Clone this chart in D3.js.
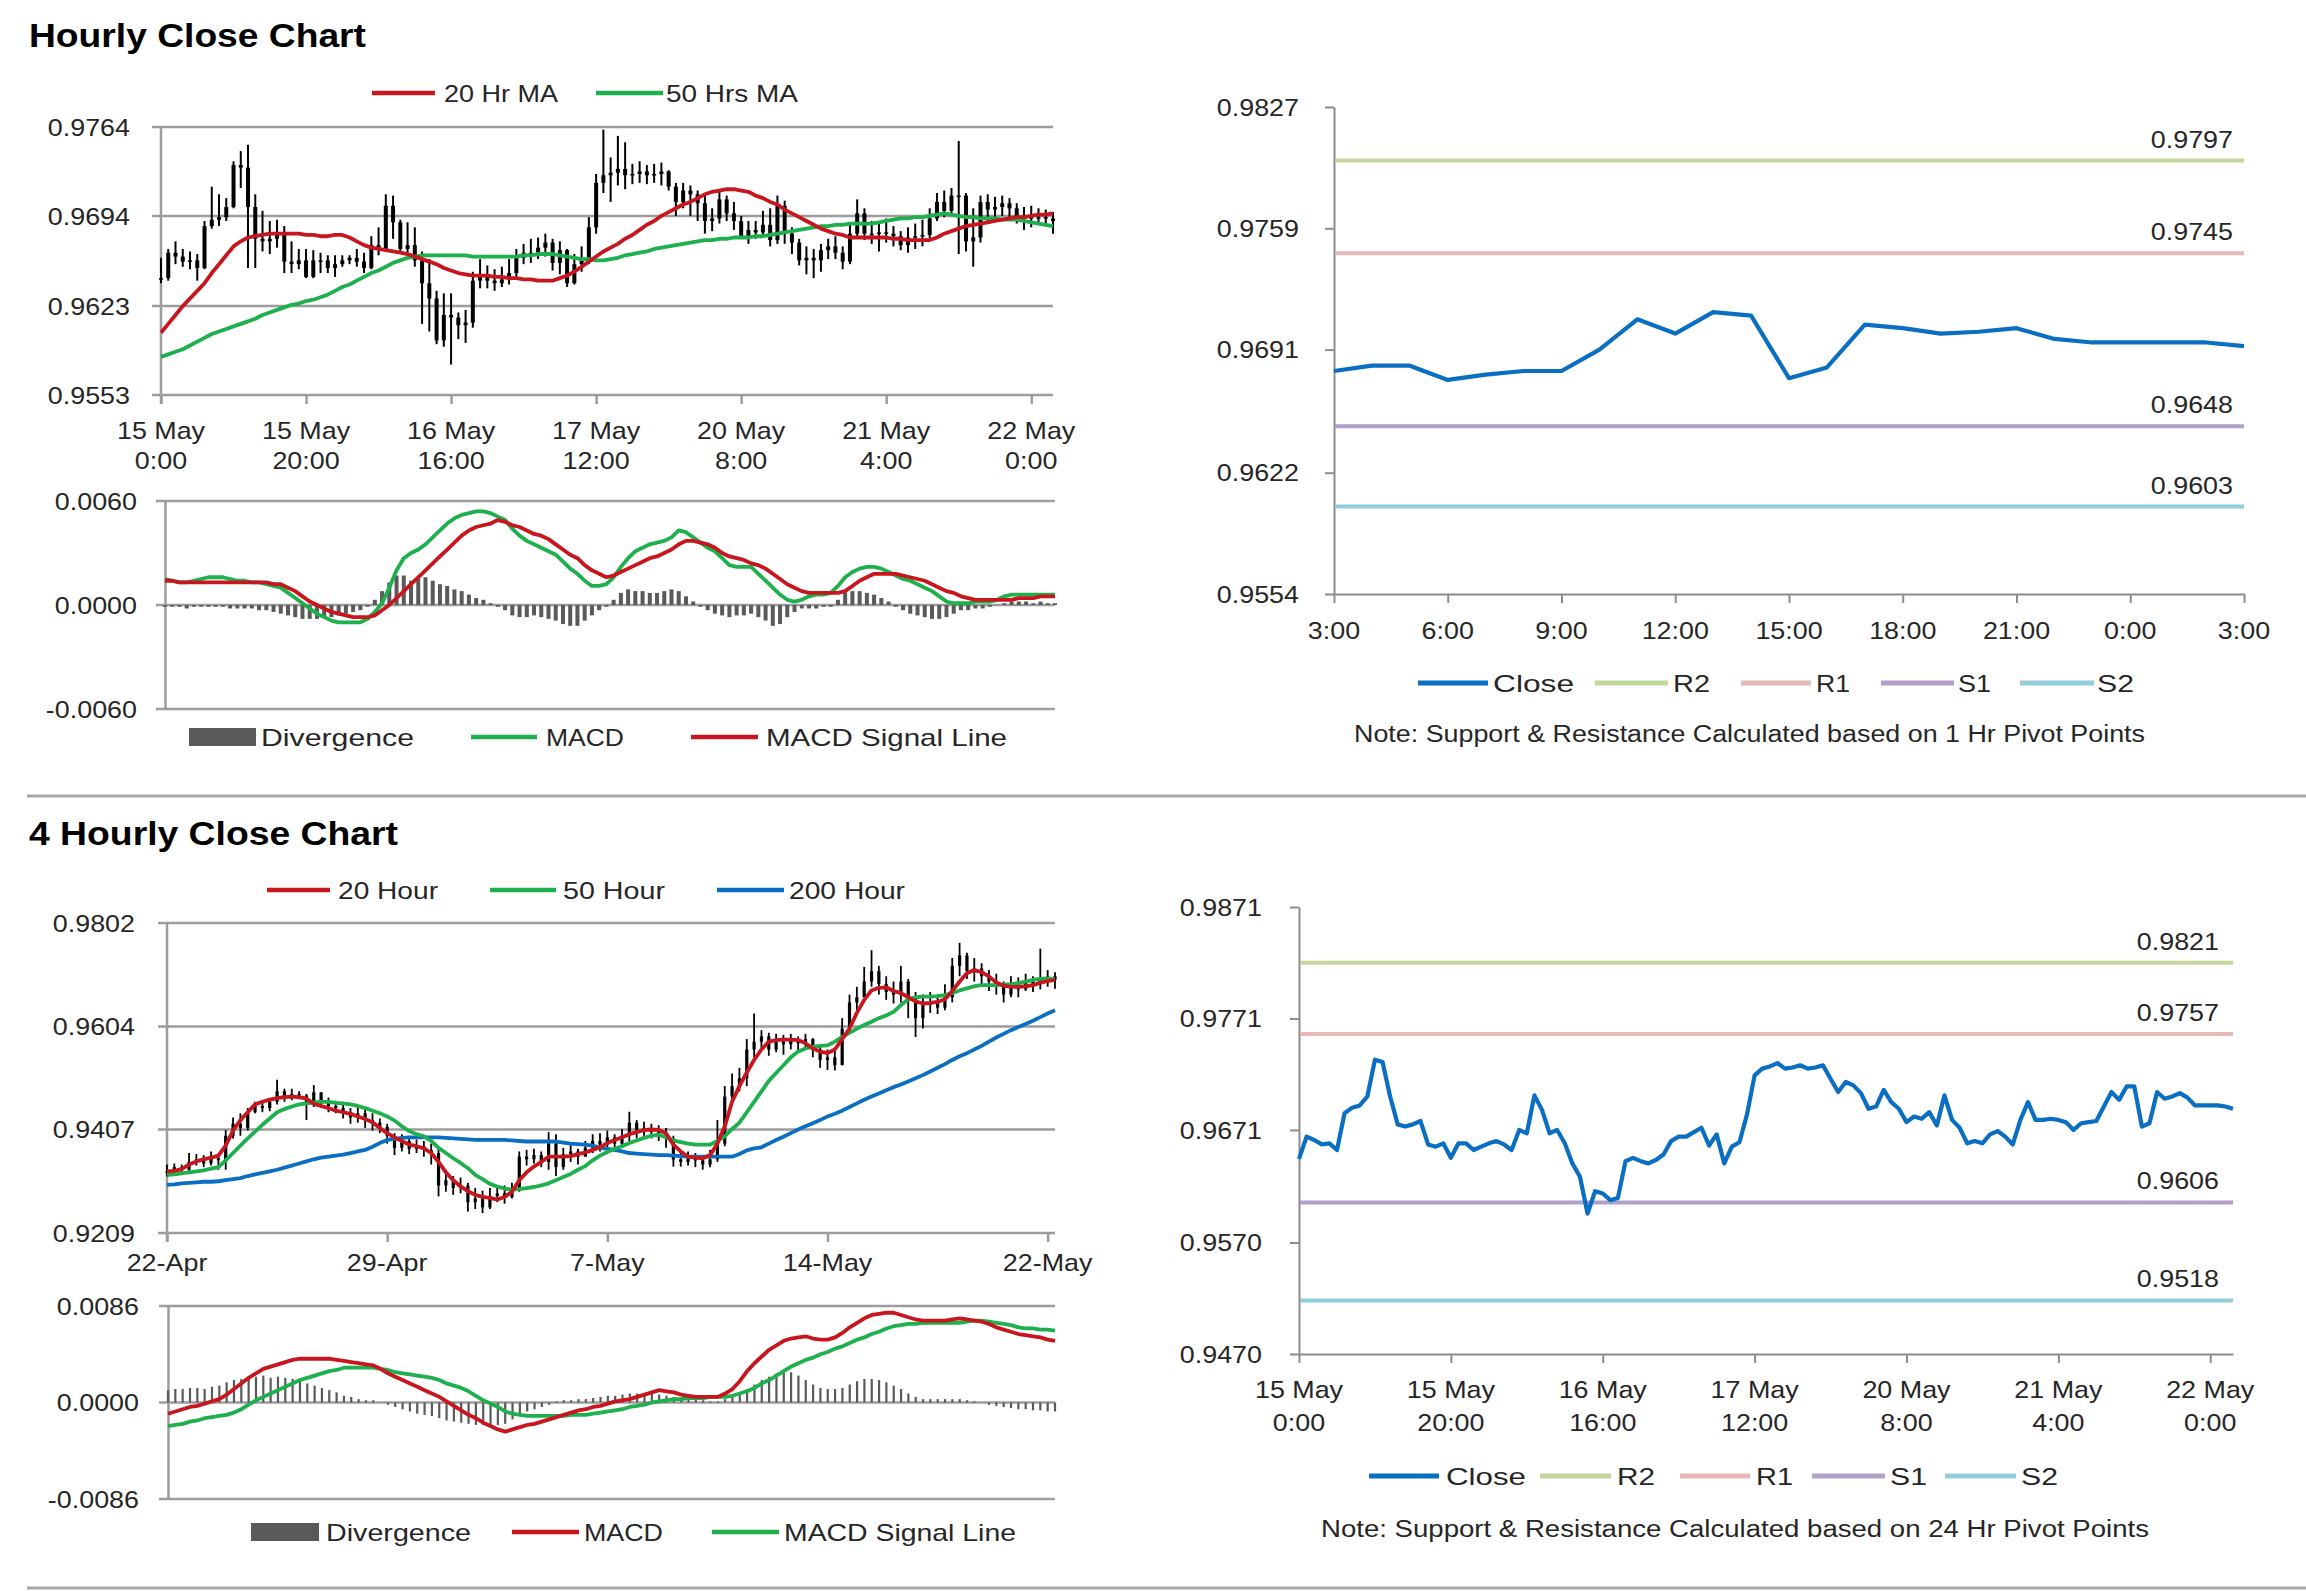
<!DOCTYPE html>
<html><head><meta charset="utf-8">
<script src="https://cdn.jsdelivr.net/npm/d3@7"></script>
<style>body{margin:0;background:#fff;}</style>
</head><body>
<script>
// ---------------- DATA ----------------
// Hourly chart (15 May 0:00 -> 22 May ~3:00), 124 hourly bars
const hXLabels = [["15 May","0:00"],["15 May","20:00"],["16 May","16:00"],["17 May","12:00"],["20 May","8:00"],["21 May","4:00"],["22 May","0:00"]];
const hXTickIdx = [0,20,40,60,80,100,120];
const hYTicks = [0.9553,0.9623,0.9694,0.9764];
const hClose = [0.9645,0.9665,0.9662,0.9658,0.9659,0.9653,0.9686,0.9691,0.9693,0.9701,
0.9734,0.9732,0.9701,0.9676,0.9674,0.9676,0.9679,0.9658,0.9656,0.9659,
0.9646,0.9659,0.9659,0.9653,0.9656,0.9659,0.9661,0.9658,0.9653,0.9671,
0.9668,0.9702,0.9689,0.9668,0.9671,0.9659,0.9641,0.9629,0.9596,0.9616,
0.9614,0.9608,0.9610,0.9643,0.9646,0.9643,0.9641,0.9644,0.9649,0.9661,
0.9665,0.9665,0.9669,0.9673,0.9657,0.9667,0.9641,0.9656,0.9660,0.9685,
0.9720,0.9726,0.9728,0.9731,0.9726,0.9727,0.9729,0.9726,0.9727,0.9729,
0.9717,0.9705,0.9714,0.9711,0.9704,0.9690,0.9692,0.9707,0.9696,0.9690,
0.9678,0.9683,0.9681,0.9687,0.9675,0.9702,0.9680,0.9673,0.9659,0.9661,
0.9659,0.9667,0.9670,0.9665,0.9658,0.9680,0.9696,0.9680,0.9680,0.9681,
0.9680,0.9678,0.9671,0.9677,0.9678,0.9679,0.9692,0.9705,0.9698,0.9710,
0.9710,0.9674,0.9677,0.9705,0.9699,0.9701,0.9704,0.9700,0.9693,0.9693,
0.9693,0.9693,0.9692,0.9690];
const hHigh = [0.9661,0.9668,0.9674,0.9668,0.9666,0.9664,0.9690,0.9717,0.9711,0.9708,
0.9737,0.9745,0.9750,0.9711,0.9698,0.9690,0.9691,0.9686,0.9674,0.9668,
0.9668,0.9667,0.9665,0.9663,0.9663,0.9663,0.9663,0.9668,0.9665,0.9678,
0.9685,0.9711,0.9710,0.9691,0.9689,0.9685,0.9666,0.9660,0.9635,0.9633,
0.9633,0.9618,0.9620,0.9650,0.9660,0.9655,0.9652,0.9654,0.9660,0.9668,
0.9672,0.9676,0.9677,0.9680,0.9676,0.9674,0.9668,0.9664,0.9670,0.9693,
0.9727,0.9762,0.9740,0.9757,0.9752,0.9735,0.9737,0.9734,0.9735,0.9736,
0.9730,0.9720,0.9720,0.9718,0.9714,0.9712,0.9700,0.9714,0.9710,0.9705,
0.9694,0.9690,0.9690,0.9698,0.9700,0.9710,0.9706,0.9685,0.9676,0.9670,
0.9668,0.9672,0.9676,0.9678,0.9670,0.9688,0.9707,0.9700,0.9690,0.9688,
0.9692,0.9686,0.9682,0.9685,0.9688,0.9691,0.9700,0.9712,0.9714,0.9716,
0.9753,0.9712,0.9700,0.9710,0.9711,0.9709,0.9710,0.9708,0.9704,0.9701,
0.9702,0.9700,0.9699,0.9697];
const hLow = [0.9641,0.9643,0.9656,0.9654,0.9652,0.9643,0.9652,0.9684,0.9686,0.9690,
0.9700,0.9716,0.9653,0.9653,0.9666,0.9664,0.9669,0.9649,0.9649,0.9652,
0.9645,0.9645,0.9649,0.9649,0.9646,0.9654,0.9656,0.9654,0.9649,0.9652,
0.9663,0.9667,0.9676,0.9665,0.9665,0.9654,0.9609,0.9603,0.9593,0.9591,
0.9577,0.9597,0.9594,0.9606,0.9637,0.9637,0.9635,0.9638,0.9640,0.9645,
0.9656,0.9657,0.9660,0.9662,0.9651,0.9648,0.9638,0.9640,0.9650,0.9656,
0.9680,0.9712,0.9705,0.9718,0.9715,0.9719,0.9720,0.9719,0.9720,0.9718,
0.9714,0.9694,0.9700,0.9694,0.9690,0.9680,0.9682,0.9688,0.9690,0.9683,
0.9676,0.9672,0.9676,0.9678,0.9670,0.9672,0.9672,0.9664,0.9655,0.9648,
0.9645,0.9650,0.9660,0.9660,0.9652,0.9656,0.9676,0.9675,0.9672,0.9666,
0.9673,0.9670,0.9667,0.9665,0.9668,0.9670,0.9676,0.9690,0.9693,0.9695,
0.9664,0.9666,0.9654,0.9673,0.9690,0.9692,0.9694,0.9693,0.9688,0.9683,
0.9685,0.9688,0.9686,0.9680];
const hMA20 = [0.9602,0.9609,0.9616,0.9623,0.9629,0.9635,0.9641,0.9649,0.9656,0.9663,
0.9670,0.9674,0.9677,0.9678,0.9679,0.9680,0.9680,0.9680,0.9680,0.9680,
0.9679,0.9679,0.9678,0.9678,0.9679,0.9679,0.9677,0.9674,0.9671,0.9669,
0.9668,0.9667,0.9666,0.9665,0.9664,0.9662,0.9660,0.9658,0.9656,0.9653,
0.9651,0.9649,0.9648,0.9647,0.9647,0.9647,0.9646,0.9646,0.9645,0.9645,
0.9644,0.9644,0.9643,0.9643,0.9643,0.9645,0.9647,0.9650,0.9654,0.9658,
0.9662,0.9666,0.9669,0.9672,0.9676,0.9679,0.9683,0.9687,0.9690,0.9694,
0.9697,0.9700,0.9703,0.9705,0.9708,0.9711,0.9713,0.9714,0.9715,0.9715,
0.9714,0.9713,0.9710,0.9708,0.9705,0.9703,0.9699,0.9696,0.9693,0.9690,
0.9687,0.9684,0.9682,0.9680,0.9679,0.9677,0.9677,0.9677,0.9677,0.9677,
0.9677,0.9676,0.9676,0.9675,0.9675,0.9675,0.9675,0.9677,0.9680,0.9682,
0.9684,0.9686,0.9687,0.9688,0.9689,0.9690,0.9691,0.9692,0.9693,0.9693,
0.9694,0.9695,0.9695,0.9696];
const hMA50 = [0.9583,0.9585,0.9587,0.9589,0.9592,0.9595,0.9598,0.9601,0.9603,0.9605,
0.9607,0.9609,0.9611,0.9613,0.9616,0.9618,0.9620,0.9622,0.9624,0.9625,
0.9627,0.9628,0.9630,0.9632,0.9635,0.9638,0.9640,0.9643,0.9646,0.9649,
0.9651,0.9654,0.9657,0.9659,0.9661,0.9662,0.9663,0.9663,0.9663,0.9663,
0.9663,0.9663,0.9663,0.9662,0.9662,0.9662,0.9662,0.9662,0.9662,0.9662,
0.9663,0.9663,0.9664,0.9664,0.9664,0.9663,0.9662,0.9661,0.9660,0.9660,
0.9659,0.9659,0.9660,0.9661,0.9663,0.9664,0.9665,0.9666,0.9668,0.9669,
0.9670,0.9671,0.9672,0.9673,0.9674,0.9675,0.9675,0.9676,0.9676,0.9677,
0.9677,0.9677,0.9678,0.9678,0.9679,0.9680,0.9681,0.9682,0.9683,0.9684,
0.9685,0.9686,0.9686,0.9687,0.9687,0.9688,0.9688,0.9688,0.9688,0.9689,
0.9690,0.9691,0.9692,0.9692,0.9693,0.9693,0.9694,0.9695,0.9696,0.9695,
0.9694,0.9693,0.9693,0.9692,0.9692,0.9692,0.9691,0.9691,0.9691,0.9690,
0.9689,0.9688,0.9687,0.9686];
const hMacdTicks = [-0.006,0,0.006];
const hMacd = [0.0015,0.0014,0.0013,0.0013,0.0014,0.0015,0.0016,0.0016,0.0016,0.0015,
0.0014,0.0014,0.0013,0.0013,0.0012,0.0011,0.0010,0.0007,0.0004,0.0001,
-0.0002,-0.0005,-0.0007,-0.0009,-0.0010,-0.0010,-0.0010,-0.0010,-0.0008,-0.0004,
0.0001,0.0010,0.0020,0.0027,0.0030,0.0032,0.0035,0.0039,0.0043,0.0047,
0.0050,0.0052,0.0053,0.0054,0.0054,0.0053,0.0051,0.0049,0.0044,0.0040,
0.0037,0.0035,0.0033,0.0031,0.0029,0.0025,0.0021,0.0018,0.0014,0.0011,
0.0011,0.0012,0.0016,0.0022,0.0027,0.0031,0.0033,0.0035,0.0036,0.0037,
0.0039,0.0043,0.0042,0.0039,0.0036,0.0033,0.0031,0.0027,0.0023,0.0022,
0.0022,0.0022,0.0018,0.0014,0.0010,0.0006,0.0003,0.0002,0.0003,0.0005,
0.0006,0.0006,0.0007,0.0011,0.0016,0.0019,0.0021,0.0022,0.0022,0.0021,
0.0019,0.0017,0.0015,0.0014,0.0012,0.0010,0.0008,0.0005,0.0002,0.0001,
0.0001,0.0001,0.0002,0.0002,0.0002,0.0003,0.0005,0.0006,0.0006,0.0006,
0.0006,0.0006,0.0006,0.0006];
const hSignal = [0.0014,0.0014,0.0013,0.0013,0.0013,0.0013,0.0013,0.0013,0.0013,0.0013,
0.0013,0.0013,0.0013,0.0013,0.0013,0.0012,0.0012,0.0010,0.0008,0.0005,
0.0002,0.0000,-0.0002,-0.0004,-0.0005,-0.0006,-0.0007,-0.0007,-0.0007,-0.0006,
-0.0003,0.0000,0.0004,0.0008,0.0012,0.0016,0.0020,0.0024,0.0028,0.0032,
0.0036,0.0040,0.0043,0.0045,0.0046,0.0047,0.0049,0.0048,0.0046,0.0045,
0.0043,0.0041,0.0040,0.0038,0.0035,0.0032,0.0029,0.0027,0.0023,0.0020,
0.0018,0.0016,0.0017,0.0019,0.0021,0.0023,0.0025,0.0027,0.0028,0.0030,
0.0032,0.0035,0.0037,0.0037,0.0036,0.0035,0.0033,0.0030,0.0028,0.0027,
0.0026,0.0024,0.0023,0.0021,0.0018,0.0015,0.0012,0.0010,0.0008,0.0007,
0.0007,0.0007,0.0007,0.0007,0.0008,0.0011,0.0014,0.0016,0.0018,0.0018,
0.0018,0.0018,0.0017,0.0016,0.0015,0.0014,0.0012,0.0010,0.0008,0.0007,
0.0005,0.0004,0.0003,0.0003,0.0003,0.0003,0.0003,0.0003,0.0004,0.0004,
0.0004,0.0005,0.0005,0.0005];
const hDiv = [-0.0001,-0.0001,-0.0001,-0.0002,-0.0001,-0.0001,-0.0001,-0.0001,-0.0001,-0.0002,
-0.0002,-0.0002,-0.0002,-0.0003,-0.0003,-0.0004,-0.0005,-0.0006,-0.0007,-0.0008,
-0.0008,-0.0008,-0.0007,-0.0007,-0.0006,-0.0005,-0.0004,-0.0003,-0.0001,0.0003,
0.0008,0.0013,0.0017,0.0017,0.0014,0.0015,0.0016,0.0014,0.0012,0.0011,
0.0009,0.0008,0.0006,0.0004,0.0003,0.0001,-0.0001,-0.0003,-0.0006,-0.0007,
-0.0007,-0.0006,-0.0007,-0.0008,-0.0009,-0.0011,-0.0012,-0.0012,-0.0009,-0.0006,
-0.0003,-0.0001,0.0003,0.0007,0.0009,0.0008,0.0008,0.0007,0.0007,0.0008,
0.0009,0.0008,0.0005,0.0002,-0.0001,-0.0003,-0.0005,-0.0006,-0.0007,-0.0006,
-0.0006,-0.0005,-0.0007,-0.0009,-0.0012,-0.0011,-0.0007,-0.0004,-0.0002,-0.0002,
-0.0002,-0.0001,-0.0001,0.0003,0.0007,0.0008,0.0008,0.0007,0.0006,0.0004,
0.0002,-0.0001,-0.0003,-0.0005,-0.0006,-0.0007,-0.0008,-0.0008,-0.0007,-0.0005,
-0.0003,-0.0003,-0.0002,-0.0002,-0.0001,0.0000,0.0001,0.0002,0.0002,0.0002,
0.0001,0.0002,0.0001,0.0001];

// 1 Hr pivot chart (last 25 hours)
const srHLabels = ["3:00","6:00","9:00","12:00","15:00","18:00","21:00","0:00","3:00"];
const srHTickIdx = [0,3,6,9,12,15,18,21,24];
const srHYTicks = [0.9554,0.9622,0.9691,0.9759,0.9827];
const srHClose = [0.9679,0.9682,0.9682,0.9674,0.9677,0.9679,0.9679,0.9691,0.9708,0.9700,
0.9712,0.9710,0.9675,0.9681,0.9705,0.9703,0.9700,0.9701,0.9703,0.9697,
0.9695,0.9695,0.9695,0.9695,0.9693];
const srHLevels = [0.9797,0.9745,0.9648,0.9603];
// 24 Hr pivot chart (same hourly closes as hClose)
const srDYTicks = [0.9470,0.9570,0.9671,0.9771,0.9871];
const srDLevels = [0.9821,0.9757,0.9606,0.9518];
const levelNames = ["R2","R1","S1","S2"];

// 4 Hourly chart (22 Apr -> 22 May), 122 bars
const fhXLabels = ["22-Apr","29-Apr","7-May","14-May","22-May"];
const fhXTickIdx = [0,30,60,90,120];
const fhYTicks = [0.9209,0.9407,0.9604,0.9802];
const fhClose = [0.9327,0.9335,0.9330,0.9345,0.9350,0.9342,0.9352,0.9348,0.9395,0.9418,
0.9410,0.9440,0.9452,0.9448,0.9460,0.9480,0.9468,0.9475,0.9472,0.9455,
0.9478,0.9460,0.9452,0.9448,0.9440,0.9430,0.9438,0.9425,0.9420,0.9412,
0.9395,0.9372,0.9385,0.9370,0.9375,0.9368,0.9362,0.9300,0.9310,0.9295,
0.9300,0.9268,0.9275,0.9258,0.9280,0.9285,0.9278,0.9290,0.9355,0.9350,
0.9358,0.9345,0.9380,0.9335,0.9360,0.9365,0.9355,0.9372,0.9385,0.9378,
0.9392,0.9380,0.9395,0.9420,0.9405,0.9410,0.9402,0.9400,0.9390,0.9350,
0.9345,0.9352,0.9348,0.9340,0.9350,0.9380,0.9470,0.9490,0.9505,0.9560,
0.9575,0.9585,0.9560,0.9575,0.9570,0.9578,0.9572,0.9580,0.9560,0.9540,
0.9545,0.9530,0.9600,0.9650,0.9660,0.9690,0.9710,0.9685,0.9670,0.9665,
0.9690,0.9660,0.9620,0.9645,0.9650,0.9640,0.9660,0.9720,0.9740,0.9710,
0.9715,0.9700,0.9690,0.9685,0.9665,0.9680,0.9675,0.9690,0.9685,0.9695,
0.9700,0.9693];
const fhHigh = [0.9340,0.9342,0.9340,0.9362,0.9360,0.9358,0.9365,0.9360,0.9406,0.9430,
0.9438,0.9448,0.9460,0.9462,0.9465,0.9502,0.9485,0.9485,0.9480,0.9475,
0.9492,0.9478,0.9468,0.9462,0.9455,0.9448,0.9450,0.9445,0.9438,0.9428,
0.9418,0.9400,0.9398,0.9392,0.9388,0.9385,0.9380,0.9370,0.9330,0.9318,
0.9315,0.9305,0.9295,0.9290,0.9295,0.9300,0.9300,0.9305,0.9365,0.9368,
0.9370,0.9365,0.9402,0.9398,0.9372,0.9378,0.9370,0.9385,0.9398,0.9400,
0.9405,0.9398,0.9408,0.9441,0.9425,0.9422,0.9418,0.9415,0.9410,0.9395,
0.9365,0.9365,0.9362,0.9358,0.9368,0.9425,0.9490,0.9514,0.9525,0.9580,
0.9629,0.9597,0.9592,0.9590,0.9588,0.9590,0.9585,0.9590,0.9582,0.9565,
0.9560,0.9560,0.9620,0.9665,0.9680,0.9718,0.9750,0.9720,0.9700,0.9690,
0.9720,0.9695,0.9670,0.9665,0.9670,0.9665,0.9685,0.9735,0.9764,0.9745,
0.9735,0.9725,0.9712,0.9705,0.9690,0.9700,0.9698,0.9705,0.9700,0.9753,
0.9712,0.9708];
const fhLow = [0.9317,0.9320,0.9322,0.9328,0.9338,0.9335,0.9338,0.9330,0.9330,0.9390,
0.9395,0.9405,0.9438,0.9440,0.9442,0.9455,0.9460,0.9463,0.9465,0.9425,
0.9450,0.9448,0.9440,0.9438,0.9428,0.9418,0.9420,0.9410,0.9405,0.9400,
0.9380,0.9358,0.9365,0.9360,0.9362,0.9355,0.9340,0.9279,0.9288,0.9282,
0.9285,0.9250,0.9255,0.9247,0.9255,0.9268,0.9265,0.9275,0.9288,0.9338,
0.9342,0.9335,0.9330,0.9318,0.9330,0.9345,0.9340,0.9355,0.9362,0.9365,
0.9370,0.9365,0.9372,0.9385,0.9390,0.9395,0.9390,0.9385,0.9372,0.9336,
0.9336,0.9338,0.9335,0.9330,0.9335,0.9345,0.9375,0.9465,0.9480,0.9490,
0.9545,0.9560,0.9548,0.9555,0.9550,0.9560,0.9555,0.9560,0.9545,0.9525,
0.9521,0.9520,0.9530,0.9595,0.9635,0.9660,0.9680,0.9665,0.9655,0.9648,
0.9650,0.9620,0.9584,0.9600,0.9630,0.9628,0.9635,0.9650,0.9700,0.9695,
0.9690,0.9680,0.9672,0.9665,0.9650,0.9660,0.9660,0.9672,0.9670,0.9675,
0.9680,0.9676];
const fhMA20 = [0.9327,0.9328,0.9331,0.9340,0.9346,0.9350,0.9353,0.9357,0.9376,0.9405,
0.9425,0.9440,0.9455,0.9460,0.9464,0.9467,0.9469,0.9470,0.9469,0.9466,
0.9456,0.9452,0.9448,0.9443,0.9440,0.9437,0.9432,0.9427,0.9421,0.9410,
0.9400,0.9392,0.9385,0.9378,0.9375,0.9371,0.9362,0.9345,0.9325,0.9310,
0.9298,0.9289,0.9282,0.9278,0.9276,0.9273,0.9278,0.9288,0.9310,0.9325,
0.9336,0.9345,0.9355,0.9355,0.9355,0.9356,0.9360,0.9363,0.9368,0.9373,
0.9381,0.9387,0.9392,0.9398,0.9402,0.9406,0.9407,0.9406,0.9400,0.9378,
0.9365,0.9355,0.9353,0.9352,0.9358,0.9380,0.9413,0.9460,0.9490,0.9516,
0.9540,0.9560,0.9575,0.9578,0.9579,0.9579,0.9578,0.9572,0.9562,0.9556,
0.9553,0.9560,0.9580,0.9600,0.9630,0.9655,0.9673,0.9678,0.9679,0.9672,
0.9668,0.9660,0.9652,0.9648,0.9649,0.9651,0.9656,0.9672,0.9690,0.9706,
0.9712,0.9708,0.9700,0.9688,0.9682,0.9680,0.9680,0.9681,0.9683,0.9688,
0.9691,0.9693];
const fhMA50 = [0.9320,0.9321,0.9323,0.9325,0.9327,0.9329,0.9332,0.9335,0.9348,0.9362,
0.9376,0.9390,0.9403,0.9416,0.9428,0.9440,0.9446,0.9451,0.9455,0.9457,
0.9459,0.9460,0.9460,0.9458,0.9457,0.9455,0.9452,0.9448,0.9443,0.9438,
0.9432,0.9424,0.9413,0.9404,0.9398,0.9394,0.9385,0.9372,0.9362,0.9352,
0.9343,0.9333,0.9320,0.9312,0.9303,0.9298,0.9294,0.9292,0.9293,0.9295,
0.9297,0.9300,0.9304,0.9310,0.9316,0.9322,0.9330,0.9337,0.9348,0.9357,
0.9364,0.9370,0.9375,0.9381,0.9386,0.9391,0.9395,0.9397,0.9392,0.9386,
0.9383,0.9380,0.9378,0.9378,0.9378,0.9385,0.9394,0.9408,0.9420,0.9440,
0.9460,0.9480,0.9500,0.9515,0.9530,0.9545,0.9556,0.9562,0.9565,0.9567,
0.9568,0.9575,0.9584,0.9592,0.9600,0.9607,0.9613,0.9620,0.9625,0.9632,
0.9645,0.9656,0.9660,0.9661,0.9661,0.9662,0.9664,0.9668,0.9673,0.9677,
0.9681,0.9683,0.9683,0.9683,0.9684,0.9685,0.9687,0.9690,0.9693,0.9695,
0.9696,0.9694];
const fhMA200 = [0.9301,0.9302,0.9304,0.9305,0.9306,0.9307,0.9307,0.9308,0.9310,0.9312,
0.9314,0.9318,0.9321,0.9324,0.9327,0.9330,0.9334,0.9338,0.9342,0.9346,
0.9350,0.9353,0.9355,0.9357,0.9359,0.9362,0.9365,0.9368,0.9374,0.9381,
0.9387,0.9389,0.9391,0.9392,0.9392,0.9392,0.9392,0.9392,0.9391,0.9390,
0.9389,0.9388,0.9387,0.9387,0.9387,0.9387,0.9387,0.9386,0.9385,0.9384,
0.9384,0.9384,0.9384,0.9384,0.9382,0.9380,0.9379,0.9378,0.9376,0.9372,
0.9370,0.9368,0.9365,0.9362,0.9361,0.9360,0.9359,0.9358,0.9358,0.9357,
0.9356,0.9355,0.9355,0.9355,0.9355,0.9355,0.9355,0.9355,0.9360,0.9367,
0.9371,0.9373,0.9380,0.9387,0.9393,0.9400,0.9407,0.9413,0.9419,0.9425,
0.9432,0.9437,0.9443,0.9450,0.9457,0.9464,0.9470,0.9476,0.9482,0.9488,
0.9493,0.9499,0.9505,0.9511,0.9518,0.9525,0.9532,0.9540,0.9547,0.9553,
0.9560,0.9567,0.9575,0.9583,0.9590,0.9597,0.9603,0.9609,0.9615,0.9622,
0.9629,0.9635];
const fhMacdTicks = [-0.0086,0,0.0086];
const fhMacd = [-0.0010,-0.0008,-0.0006,-0.0004,-0.0003,-0.0001,0.0001,0.0003,0.0007,0.0012,
0.0017,0.0022,0.0026,0.0030,0.0032,0.0034,0.0036,0.0038,0.0039,0.0039,
0.0039,0.0039,0.0039,0.0038,0.0037,0.0036,0.0035,0.0034,0.0033,0.0030,
0.0026,0.0023,0.0020,0.0017,0.0014,0.0011,0.0008,0.0005,0.0001,-0.0003,
-0.0007,-0.0011,-0.0014,-0.0018,-0.0021,-0.0024,-0.0026,-0.0024,-0.0022,-0.0020,
-0.0019,-0.0017,-0.0015,-0.0013,-0.0011,-0.0009,-0.0007,-0.0006,-0.0004,-0.0003,
-0.0001,0.0001,0.0002,0.0003,0.0005,0.0007,0.0009,0.0011,0.0010,0.0009,
0.0007,0.0006,0.0005,0.0005,0.0005,0.0005,0.0008,0.0012,0.0019,0.0028,
0.0035,0.0041,0.0047,0.0051,0.0055,0.0057,0.0058,0.0059,0.0057,0.0056,
0.0056,0.0058,0.0062,0.0067,0.0071,0.0075,0.0078,0.0079,0.0080,0.0080,
0.0078,0.0076,0.0074,0.0073,0.0073,0.0073,0.0073,0.0074,0.0075,0.0074,
0.0073,0.0072,0.0070,0.0067,0.0065,0.0063,0.0061,0.0060,0.0059,0.0058,
0.0056,0.0055];
const fhSignal = [-0.0021,-0.0020,-0.0019,-0.0017,-0.0016,-0.0014,-0.0013,-0.0012,-0.0011,-0.0009,
-0.0006,-0.0002,0.0002,0.0005,0.0008,0.0011,0.0014,0.0017,0.0020,0.0022,
0.0024,0.0026,0.0028,0.0029,0.0031,0.0031,0.0031,0.0031,0.0031,0.0030,
0.0029,0.0027,0.0026,0.0025,0.0024,0.0023,0.0022,0.0020,0.0017,0.0015,
0.0013,0.0010,0.0006,0.0002,-0.0001,-0.0004,-0.0008,-0.0010,-0.0011,-0.0012,
-0.0012,-0.0012,-0.0012,-0.0012,-0.0012,-0.0011,-0.0011,-0.0011,-0.0010,-0.0009,
-0.0008,-0.0007,-0.0006,-0.0004,-0.0003,-0.0002,0.0000,0.0001,0.0002,0.0003,
0.0003,0.0004,0.0004,0.0004,0.0005,0.0005,0.0005,0.0006,0.0008,0.0010,
0.0013,0.0017,0.0020,0.0024,0.0028,0.0032,0.0035,0.0038,0.0040,0.0043,
0.0045,0.0048,0.0050,0.0053,0.0056,0.0058,0.0061,0.0063,0.0066,0.0068,
0.0069,0.0070,0.0070,0.0071,0.0071,0.0071,0.0071,0.0071,0.0071,0.0072,
0.0073,0.0073,0.0072,0.0071,0.0070,0.0069,0.0067,0.0066,0.0066,0.0065,
0.0065,0.0064];
const fhDiv = [0.0011,0.0012,0.0012,0.0013,0.0013,0.0012,0.0014,0.0015,0.0018,0.0020,
0.0021,0.0022,0.0023,0.0024,0.0022,0.0023,0.0022,0.0021,0.0019,0.0017,
0.0015,0.0013,0.0011,0.0009,0.0006,0.0005,0.0003,0.0002,0.0002,0.0000,
-0.0002,-0.0004,-0.0006,-0.0008,-0.0010,-0.0011,-0.0012,-0.0014,-0.0016,-0.0017,
-0.0018,-0.0019,-0.0020,-0.0020,-0.0021,-0.0020,-0.0019,-0.0015,-0.0011,-0.0008,
-0.0006,-0.0004,-0.0002,0.0001,0.0002,0.0002,0.0003,0.0003,0.0004,0.0005,
0.0006,0.0006,0.0007,0.0008,0.0008,0.0008,0.0008,0.0007,0.0006,0.0005,
0.0004,0.0003,0.0003,0.0002,0.0001,0.0001,0.0003,0.0006,0.0009,0.0012,
0.0016,0.0020,0.0023,0.0026,0.0028,0.0027,0.0024,0.0020,0.0016,0.0013,
0.0012,0.0012,0.0013,0.0016,0.0019,0.0021,0.0021,0.0020,0.0018,0.0015,
0.0012,0.0008,0.0005,0.0003,0.0003,0.0003,0.0003,0.0003,0.0003,0.0002,
0.0001,0.0000,-0.0002,-0.0003,-0.0004,-0.0005,-0.0006,-0.0006,-0.0007,-0.0007,
-0.0008,-0.0008];

// ---------------- STYLE ----------------
const W = 2306, H = 1591;
const FONT = "'Liberation Sans', Arial, Helvetica, sans-serif";
const TXT = "#262626", AX = "#8c8c8c", GRID = "#9d9d9d";
const RED = "#c8161e", GREEN = "#1db04c", BLUE = "#0a6fc2", DIVC = "#5a5a5a";
const LEVEL_COLORS = ["#c4d79b", "#e6b8b7", "#b1a0c7", "#92cddc"];
const FS = 24, SX = 1.12;

const svg = d3.select("body").append("svg").attr("width", W).attr("height", H);
svg.append("rect").attr("width", W).attr("height", H).attr("fill", "#fff");

function T(g, x, y, s, o = {}) {
  const t = g.append("text")
    .attr("font-family", FONT)
    .attr("font-size", o.size || FS)
    .attr("font-weight", o.weight || "normal")
    .attr("fill", o.fill || TXT)
    .attr("text-anchor", o.anchor || "start")
    .text(s);
  if (o.w) {
    t.attr("x", x).attr("y", y).attr("textLength", o.w).attr("lengthAdjust", "spacingAndGlyphs");
  } else {
    t.attr("transform", `translate(${x},${y}) scale(${SX},1)`);
  }
  return t;
}
const f4 = d3.format(".4f");
const fmt4 = v => f4(v).replace("\u2212", "-");

function legendLine(g, xa, xb, y, color, label, tx, tw, sw = 5) {
  g.append("line").attr("x1", xa).attr("x2", xb).attr("y1", y).attr("y2", y)
    .attr("stroke", color).attr("stroke-width", sw);
  T(g, tx, y + 8.6, label, { w: tw });
}
function legendRect(g, xa, xb, y, color, label, tx, tw) {
  g.append("rect").attr("x", xa).attr("y", y - 9).attr("width", xb - xa).attr("height", 18).attr("fill", color);
  T(g, tx, y + 8.6, label, { w: tw });
}
function styleAxis(sel) {
  sel.select(".domain").attr("stroke", AX).attr("stroke-width", 2);
  sel.selectAll(".tick line").attr("stroke", AX).attr("stroke-width", 2);
  sel.selectAll(".tick text").remove();
}

// ---------------- PRICE PANEL ----------------
function pricePanel(o) {
  const g = svg.append("g");
  const n = o.close.length;
  const x = d3.scaleLinear().domain([0, n - 1]).range([o.x0, o.x1]);
  const y = d3.scaleLinear().domain([o.yTicks[0], o.yTicks[o.yTicks.length - 1]]).range([o.y1, o.y0]);
  g.selectAll(null).data(o.yTicks).join("line")
    .attr("x1", o.x0 - 9).attr("x2", o.x1).attr("y1", d => y(d)).attr("y2", d => y(d))
    .attr("stroke", GRID).attr("stroke-width", 2.5);
  g.append("line").attr("x1", o.x0).attr("x2", o.x0).attr("y1", o.y0).attr("y2", o.y1 + 9)
    .attr("stroke", GRID).attr("stroke-width", 2.5);
  const xa = g.append("g").attr("transform", `translate(0,${o.y1})`)
    .call(d3.axisBottom(x).tickValues(o.xTickIdx).tickSize(9).tickSizeOuter(0));
  styleAxis(xa); xa.select(".domain").remove();
  xa.selectAll(".tick line").attr("stroke", GRID).attr("stroke-width", 2.5);
  o.yTicks.forEach(v => T(g, o.x0 - o.gap, y(v) + 8.6, fmt4(v), { anchor: "end" }));
  o.xTickIdx.forEach((idx, k) => {
    const lab = o.xLabels[k];
    if (Array.isArray(lab)) {
      T(g, x(idx), o.lab1, lab[0], { anchor: "middle" });
      T(g, x(idx), o.lab2, lab[1], { anchor: "middle" });
    } else T(g, x(idx), o.lab1, lab, { anchor: "middle" });
  });
  const idx = d3.range(n);
  const op = i => (i ? o.close[i - 1] : o.close[i]);
  const cg = g.append("g");
  cg.selectAll(null).data(idx).join("line")
    .attr("x1", i => x(i)).attr("x2", i => x(i))
    .attr("y1", i => y(o.high[i])).attr("y2", i => y(o.low[i]))
    .attr("stroke", "#000").attr("stroke-width", o.ww);
  cg.selectAll(null).data(idx).join("rect")
    .attr("x", i => x(i) - o.bw / 2).attr("width", o.bw)
    .attr("y", i => y(Math.max(o.close[i], op(i))))
    .attr("height", i => Math.max(1.5, Math.abs(y(o.close[i]) - y(op(i)))))
    .attr("fill", "#000");
  o.lines.forEach(L => {
    g.append("path").datum(L.data)
      .attr("d", d3.line().x((d, i) => x(i)).y(d => y(d)))
      .attr("fill", "none").attr("stroke", L.color).attr("stroke-width", 3.8)
      .attr("stroke-linejoin", "round");
  });
}

// ---------------- MACD PANEL ----------------
function macdPanel(o) {
  const g = svg.append("g");
  const n = o.macd.length;
  const x = d3.scaleLinear().domain([0, n - 1]).range([o.x0, o.x1]);
  const y = d3.scaleLinear().domain([o.yTicks[0], o.yTicks[o.yTicks.length - 1]]).range([o.y1, o.y0]);
  g.selectAll(null).data(o.yTicks).join("line")
    .attr("x1", o.x0 - 9).attr("x2", o.x1).attr("y1", d => y(d)).attr("y2", d => y(d))
    .attr("stroke", GRID).attr("stroke-width", 2.5);
  const ya = g.append("g").attr("transform", `translate(${o.x0},0)`)
    .call(d3.axisLeft(y).tickValues(o.yTicks).tickSize(0).tickSizeOuter(0));
  styleAxis(ya); ya.select(".domain").attr("stroke", GRID).attr("stroke-width", 2.5);
  o.yTicks.forEach(v => T(g, o.x0 - o.gap, y(v) + 8.6, fmt4(v), { anchor: "end" }));
  g.selectAll(null).data(o.div).join("rect")
    .attr("x", (d, i) => x(i) - o.bw / 2).attr("width", o.bw)
    .attr("y", d => Math.min(y(d), y(0))).attr("height", d => Math.abs(y(d) - y(0)))
    .attr("fill", DIVC);
  o.lines.forEach(L => {
    g.append("path").datum(L.data)
      .attr("d", d3.line().x((d, i) => x(i)).y(d => y(d)))
      .attr("fill", "none").attr("stroke", L.color).attr("stroke-width", 3.8)
      .attr("stroke-linejoin", "round");
  });
}

// ---------------- SUPPORT/RESISTANCE PANEL ----------------
function srPanel(o) {
  const g = svg.append("g");
  const n = o.close.length;
  const x = d3.scaleLinear().domain([0, n - 1]).range([o.x0, o.x1]);
  const y = d3.scaleLinear().domain([o.yTicks[0], o.yTicks[o.yTicks.length - 1]]).range([o.y1, o.y0]);
  const ya = g.append("g").attr("transform", `translate(${o.x0},0)`)
    .call(d3.axisLeft(y).tickValues(o.yTicks).tickSize(9).tickSizeOuter(0));
  styleAxis(ya);
  const xa = g.append("g").attr("transform", `translate(0,${o.y1})`)
    .call(d3.axisBottom(x).tickValues(o.xTickIdx).tickSize(9).tickSizeOuter(0));
  styleAxis(xa);
  o.yTicks.forEach(v => T(g, o.x0 - o.gap, y(v) + 8.6, fmt4(v), { anchor: "end" }));
  o.xTickIdx.forEach((idx, k) => {
    const lab = o.xLabels[k];
    if (Array.isArray(lab)) {
      T(g, x(idx), o.lab1, lab[0], { anchor: "middle" });
      T(g, x(idx), o.lab2, lab[1], { anchor: "middle" });
    } else T(g, x(idx), o.lab1, lab, { anchor: "middle" });
  });
  o.levels.forEach((v, k) => {
    g.append("line").attr("x1", o.x0 + 1).attr("x2", o.x1).attr("y1", y(v)).attr("y2", y(v))
      .attr("stroke", LEVEL_COLORS[k]).attr("stroke-width", 4);
    T(g, o.x1 - o.labPad, y(v) - 13, fmt4(v), { anchor: "end" });
  });
  g.append("path").datum(o.close)
    .attr("d", d3.line().x((d, i) => x(i)).y(d => y(d)))
    .attr("fill", "none").attr("stroke", BLUE).attr("stroke-width", 4.2)
    .attr("stroke-linejoin", "round");
  const L = o.legend;
  legendLine(g, L[0][0], L[0][1], o.legY, BLUE, "Close", L[0][2], L[0][3], 5);
  levelNames.forEach((nm, k) => legendLine(g, L[k + 1][0], L[k + 1][1], o.legY, LEVEL_COLORS[k], nm, L[k + 1][2], L[k + 1][3], 5));
  T(g, o.noteX, o.noteY, o.note, { w: o.noteW, size: 23 });
}

// ---------------- DRAW ----------------
T(svg, 29, 47, "Hourly Close Chart", { size: 33, weight: "bold", fill: "#000", w: 337 });
T(svg, 29, 845, "4 Hourly Close Chart", { size: 33, weight: "bold", fill: "#000", w: 369 });
svg.append("line").attr("x1", 27).attr("x2", W).attr("y1", 796).attr("y2", 796).attr("stroke", "#a6a6a6").attr("stroke-width", 3);
svg.append("line").attr("x1", 27).attr("x2", W).attr("y1", 1588).attr("y2", 1588).attr("stroke", "#a6a6a6").attr("stroke-width", 3);

// Panel 1: hourly price
legendLine(svg, 372, 435, 93, RED, "20 Hr MA", 444, 114, 4.5);
legendLine(svg, 596, 663, 93, GREEN, "50 Hrs MA", 666, 132, 4.5);
pricePanel({ x0: 161, x1: 1053, y0: 127, y1: 395, close: hClose, high: hHigh, low: hLow,
  yTicks: hYTicks, xTickIdx: hXTickIdx, xLabels: hXLabels, lab1: 439, lab2: 469, gap: 31, bw: 4, ww: 2,
  lines: [{ data: hMA50, color: GREEN }, { data: hMA20, color: RED }] });

// Panel 2: hourly MACD
macdPanel({ x0: 165, x1: 1055, y0: 501, y1: 709, yTicks: hMacdTicks, gap: 28, bw: 4,
  macd: hMacd, div: hDiv, lines: [{ data: hMacd, color: GREEN }, { data: hSignal, color: RED }] });
legendRect(svg, 189, 256, 737, DIVC, "Divergence", 261, 153);
legendLine(svg, 471, 537, 737, GREEN, "MACD", 546, 78, 4.5);
legendLine(svg, 691, 758, 737, RED, "MACD  Signal Line", 766, 241, 4.5);

// Panel 3: 1 Hr pivots
srPanel({ x0: 1334, x1: 2244, y0: 107, y1: 594, close: srHClose, yTicks: srHYTicks,
  xTickIdx: srHTickIdx, xLabels: srHLabels, lab1: 639, gap: 35, levels: srHLevels, labPad: 11,
  legY: 683, legend: [[1418, 1488, 1493, 81], [1595, 1668, 1673, 37], [1741, 1811, 1816, 34], [1881, 1954, 1958, 33], [2020, 2094, 2097, 37]],
  note: "Note: Support & Resistance Calculated based on 1 Hr Pivot Points", noteX: 1354, noteY: 742, noteW: 791 });

// Panel 4: 24 Hr pivots
srPanel({ x0: 1299, x1: 2233, y0: 907, y1: 1354, close: hClose, yTicks: srDYTicks,
  xTickIdx: hXTickIdx, xLabels: hXLabels, lab1: 1398, lab2: 1431, gap: 37, levels: srDLevels, labPad: 14,
  legY: 1476, legend: [[1369, 1439, 1446, 80], [1540, 1611, 1617, 38], [1680, 1750, 1756, 37], [1812, 1885, 1890, 37], [1945, 2016, 2021, 37]],
  note: "Note: Support & Resistance Calculated based on 24 Hr Pivot Points", noteX: 1321, noteY: 1537, noteW: 828 });

// Panel 5: 4 hourly price
legendLine(svg, 267, 330, 890, RED, "20 Hour", 338, 100, 4.5);
legendLine(svg, 490, 556, 890, GREEN, "50 Hour", 563, 102, 4.5);
legendLine(svg, 717, 784, 890, BLUE, "200 Hour", 789, 116, 4.5);
pricePanel({ x0: 167, x1: 1055, y0: 923, y1: 1233, close: fhClose, high: fhHigh, low: fhLow,
  yTicks: fhYTicks, xTickIdx: fhXTickIdx, xLabels: fhXLabels, lab1: 1271, gap: 32, bw: 3.2, ww: 1.8,
  lines: [{ data: fhMA200, color: BLUE }, { data: fhMA50, color: GREEN }, { data: fhMA20, color: RED }] });

// Panel 6: 4 hourly MACD
macdPanel({ x0: 168, x1: 1055, y0: 1306, y1: 1499, yTicks: fhMacdTicks, gap: 29, bw: 2.2,
  macd: fhMacd, div: fhDiv, lines: [{ data: fhSignal, color: GREEN }, { data: fhMacd, color: RED }] });
legendRect(svg, 251, 319, 1532, DIVC, "Divergence", 326, 145);
legendLine(svg, 512, 579, 1532, RED, "MACD", 584, 79, 4.5);
legendLine(svg, 712, 779, 1532, GREEN, "MACD Signal Line", 784, 232, 4.5);
</script>
</body></html>
